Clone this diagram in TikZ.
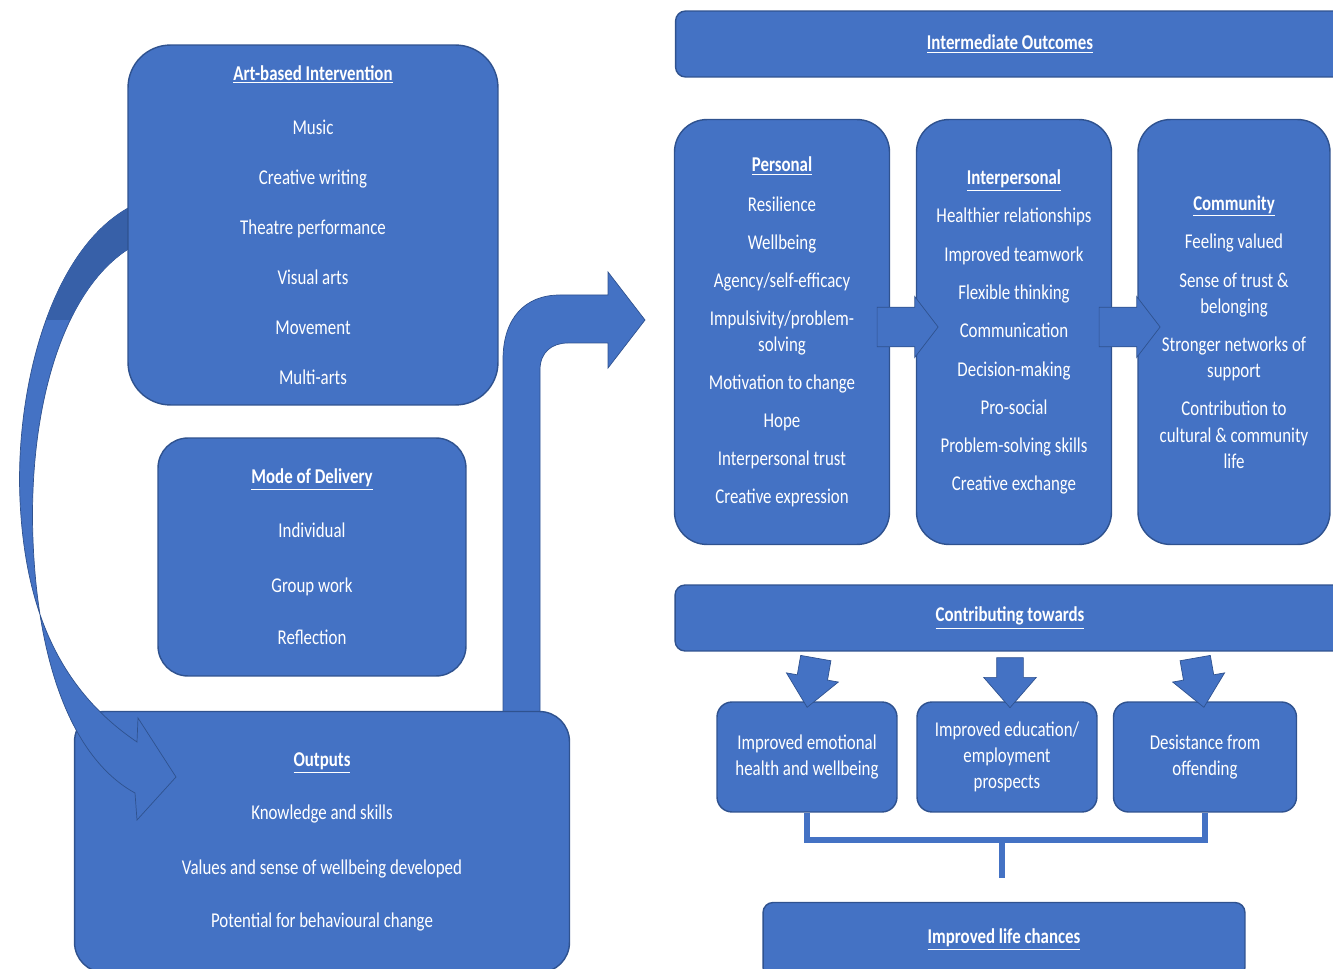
\documentclass[tikz,border=0pt]{standalone}
\usepackage{fontspec}
\setmainfont{Carlito}[FakeStretch=0.8]
\usetikzlibrary{shapes.arrows,positioning}
\usepackage{xcolor}
\definecolor{boxblue}{HTML}{4472C4}
\definecolor{edgeblue}{HTML}{2F528F}
\definecolor{backblue}{HTML}{3760A8}
\newcommand{\boxtitle}[1]{\underline{\textbf{#1}}}

\begin{document}
\begin{tikzpicture}%
    [x=0.02cm, y=-0.02cm,
    font=\fontsize{12}{15}\selectfont,
    panel/.style={draw=edgeblue, thick, fill=boxblue, text=white, align=center, inner sep=2pt},
    banner/.style={panel, rounded corners=0.2cm, minimum height=1.32cm},
    outcome/.style={panel, rounded corners=0.3cm, minimum width=3.6cm, minimum height=2.2cm},
    column/.style={panel, rounded corners=0.65cm, minimum height=8.5cm},
    rightarrow/.style={single arrow, draw=edgeblue, fill=boxblue, thin, inner xsep=0pt,
        inner ysep=0.39cm, minimum height=1.22cm, single arrow head extend=0.21cm,
        single arrow tip angle=105},
    downarrow/.style={single arrow, draw=edgeblue, fill=boxblue, thin, inner xsep=0pt,
        inner ysep=0.26cm, minimum height=1cm, single arrow head extend=0.26cm,
        single arrow tip angle=82},
    link/.style={draw=boxblue, line width=3.5pt}
    ]
    \useasboundingbox (0,0) rectangle (1333,969);
    \clip (0,0) rectangle (1333,969);

    % bent arrow up to the outcomes
    \path[fill=boxblue, draw=edgeblue, thin]
      (503,740) -- (503,360) .. controls (503,318) and (525,295) .. (560,295)
      -- (608,295) -- (608,272) -- (645,320) -- (608,368) -- (608,343)
      -- (568,343) .. controls (552,343) and (540,352) .. (540,370) -- (540,740) -- cycle;

    \node[panel, rounded corners=0.6cm, minimum width=9.9cm, minimum height=5.22cm] (outputs) at (322,842)
      {\boxtitle{Outputs}\\[15.2pt]
       Knowledge and skills\\[16.3pt] Values and sense of wellbeing developed\\[15.2pt]
       Potential for behavioural change};

    % curved arrow from the intervention down to the outputs
    \path[fill=boxblue, draw=edgeblue, thin]
      (130,207) .. controls (50,250) and (15,390) .. (20,500)
      .. controls (25,610) and (60,690) .. (137,742)
      -- (138,718) -- (176,777) -- (137,820) -- (135,793)
      .. controls (75,760) and (38,670) .. (33,540)
      .. controls (28,410) and (62,290) .. (130,248) -- cycle;
    \begin{scope}
      \clip (0,150) rectangle (135,320);
      \path[fill=backblue]
        (130,207) .. controls (50,250) and (15,390) .. (20,500)
        -- (33,540) .. controls (28,410) and (62,290) .. (130,248) -- cycle;
    \end{scope}

    \node[panel, rounded corners=0.85cm, minimum width=7.4cm, minimum height=7.2cm] (art) at (313,225)
      {\boxtitle{Art-based Intervention}\\[15.7pt]
       Music\\[13.5pt] Creative writing\\[13.5pt] Theatre performance\\[13.5pt]
       Visual arts\\[13.5pt] Movement\\[13.5pt] Multi-arts};
    \node[panel, rounded corners=0.6cm, minimum width=6.16cm, minimum height=4.76cm] (mode) at (312,557)
      {\boxtitle{Mode of Delivery}\\[15.7pt]
       Individual\\[16pt] Group work\\[15pt] Reflection};

    \node[banner, minimum width=13.38cm] (inter) at (1010,44) {\boxtitle{Intermediate Outcomes}};

    \node[column, minimum width=4.3cm] (pers) at (782,332)
      {\boxtitle{Personal}\\[7.8pt]
       Resilience\\[6.6pt] Wellbeing\\[6.6pt] Agency/self-efficacy\\[6.6pt]
       Impulsivity/problem-\\solving\\[6.6pt] Motivation to change\\[6.6pt]
       Hope\\[6.6pt] Interpersonal trust\\[6.6pt] Creative expression};
    \node[column, minimum width=3.9cm] (interp) at (1014,332)
      {\boxtitle{Interpersonal}\\[7pt]
       Healthier relationships\\[6.8pt] Improved teamwork\\[6.8pt] Flexible thinking\\[6.8pt]
       Communication\\[6.8pt] Decision-making\\[6.8pt] Pro-social\\[6.8pt]
       Problem-solving skills\\[6.8pt] Creative exchange};
    \node[column, minimum width=3.84cm] (comm) at (1234,332)
      {\boxtitle{Community}\\[7pt]
       Feeling valued\\[7pt] Sense of trust \&\\belonging\\[6.6pt]
       Stronger networks of\\support\\[6.6pt]
       Contribution to\\cultural \& community\\life};

    \node[rightarrow] (pers-interp) at (900,327) {};
    \node[rightarrow] (interp-comm) at (1122,327) {};

    \node[banner, minimum width=13.4cm] (contrib) at (1010,618) {\boxtitle{Contributing towards}};

    \node[outcome] (emo) at (807,757) {Improved emotional\\health and wellbeing};
    \node[outcome] (edu) at (1007,757) {Improved education/\\employment\\prospects};
    \node[outcome, minimum width=3.66cm] (desist) at (1205,757) {Desistance from\\offending};

    \node[downarrow, inner ysep=0.3cm, single arrow head extend=0.22cm, rotate=-100] (to-emo) at (813,674) {};
    \node[downarrow, rotate=-90] (to-edu) at (1010,675) {};
    \node[downarrow, inner ysep=0.3cm, single arrow head extend=0.22cm, rotate=-80] (to-desist) at (1198,674) {};

    \node[banner, minimum width=9.64cm, minimum height=1.5cm] (life) at (1004,940) {\boxtitle{Improved life chances}};

    % bracket joining the three outcomes
    \coordinate (join) at (1002,840);
    \coordinate (stem) at (1002,878);
    \draw[link] (emo.south) |- (join) -| (desist.south);
    \draw[link] (join) -- (stem);
  \end{tikzpicture}
\end{document}
